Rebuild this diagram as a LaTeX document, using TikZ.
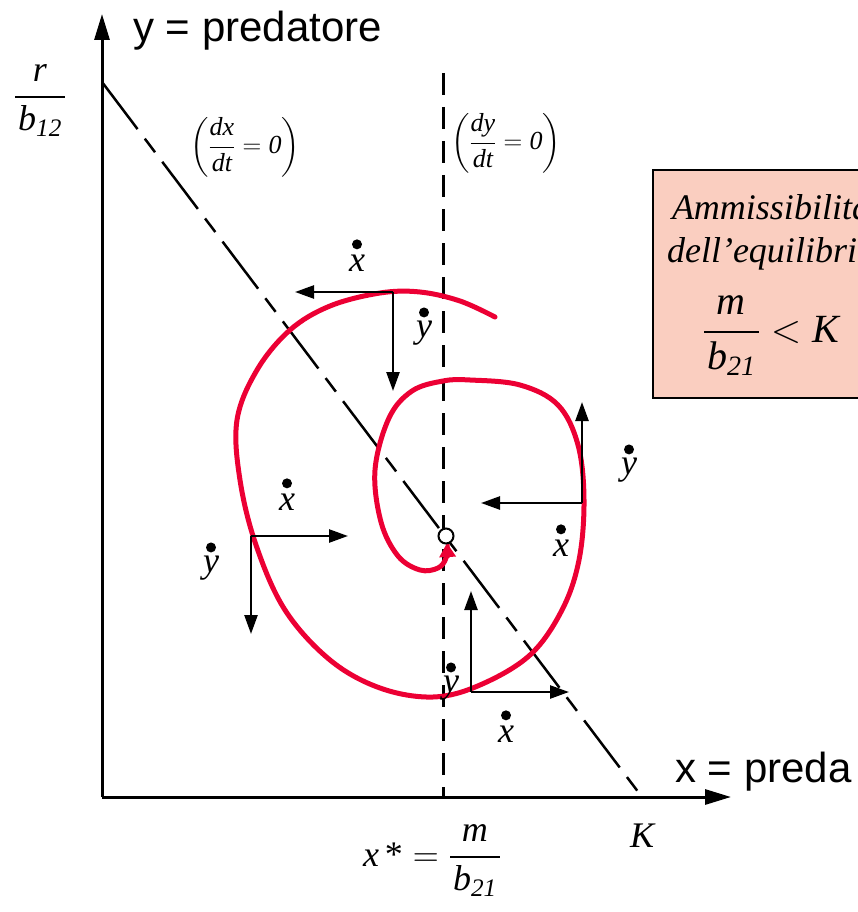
\RequirePackage{fix-cm}
\documentclass[tikz,border=0pt]{standalone}
\usepackage{amsmath}
\usepackage{fontspec}
\setmainfont{Liberation Serif}
\newfontfamily\axisfont{Liberation Sans}
\usetikzlibrary{
  arrows.meta,
  positioning
}
\definecolor{SpiralRed}{RGB}{236,0,52}
\definecolor{BoxSalmon}{RGB}{250,206,192}
\newcommand{\ratio}[2]{\genfrac{}{}{2.5pt}{0}{#1}{\kern3pt#2\kern3pt}}
\tikzset{
  axisline/.style={-{Triangle[length=26pt,width=15pt]},line width=3pt},
  xnull/.style={line width=2.5pt,dash pattern=on 59pt off 12pt on 17pt off 12pt},
  ynull/.style={line width=3pt,dash pattern=on 22pt off 12pt},
  velarrow/.style={-{Triangle[length=19pt,width=13pt]},line width=2.5pt},
  trajectory/.style={-{Triangle[length=14pt,width=16pt]},draw=SpiralRed,line width=5pt,line cap=round},
  dotmark/.style={circle,fill=black,inner sep=0pt,minimum size=10pt},
  ratelabel/.style={font=\fontsize{36}{40}\selectfont\itshape,inner sep=0pt},
  axislabel/.style={font=\axisfont\fontsize{42}{48}\selectfont,inner sep=0pt,anchor=west},
  mathlabel/.style={font=\fontsize{36}{42}\selectfont,inner sep=0pt},
  nulllabel/.style={font=\fontsize{26}{30}\selectfont,inner sep=0pt},
  condbox/.style={draw,fill=BoxSalmon,line width=2pt,minimum width=236pt,minimum height=228pt,inner sep=0pt}
}

\begin{document}
\begin{tikzpicture}[x=1pt,y=-1pt]
\useasboundingbox (0,0) rectangle (858,912);
\clip (0,0) rectangle (858,912);

% axes
\coordinate (O) at (102,797);
\coordinate (ytip) at (102,14);
\coordinate (xtip) at (731,797);
\draw[axisline] (O) -- (ytip);
\draw[axisline] (O) -- (xtip);
\node[axislabel] (ylab) at (133,31) {y = predatore};
\node[axislabel] (xlab) at (675,772) {x = preda};

% nullclines
\coordinate (rb) at (102,82);
\coordinate (K) at (642,797);
\coordinate (ntop) at (443,73);
\coordinate (nbot) at (443,797);
\draw[xnull] (rb) -- (K);
\draw[ynull] (ntop) -- (nbot);
\node[nulllabel] (dxdt) at (245,147) {$\displaystyle\left(\frac{\textit{dx}}{\textit{dt}}=\textit{0}\right)$};
\node[nulllabel] (dydt) at (506,143) {$\displaystyle\left(\frac{\textit{dy}}{\textit{dt}}=\textit{0}\right)$};

% axis values
\node[mathlabel,anchor=base] (rlab) at (40,106) {$\ratio{\textit{r}}{\textit{b}_{\textit{12}}}$};
\node[mathlabel] (Klab) at (643,836) {\textit{K}};
\node[mathlabel,anchor=base] (xstar) at (432,866) {$\textit{x}\,\text{*}=\ratio{\textit{m}}{\textit{b}_{\textit{21}}}$};

% condition box
\node[condbox] (cond) at (771,284) {};
\node[mathlabel,anchor=base] (amm) at (771,219) {\textit{Ammissibilità}};
\node[mathlabel,anchor=base] (equ) at (771,262) {\textit{dell’equilibrio}};
\node[mathlabel,font=\fontsize{40}{46}\selectfont,anchor=base] (cmk) at (771,342) {$\ratio{\textit{m}}{\textit{b}_{\textit{21}}}<\textit{K}$};

% trajectory
\draw[trajectory] plot[smooth,tension=0.6] coordinates {
  (495,317) (460,301) (420,292) (380,293) (330,306) (290,330) (257,370)
  (237,420) (240,480) (256,545) (285,610) (330,660) (380,688) (433,697)
  (480,685) (530,655) (562,610) (579,560) (584,500) (578,445) (558,405)
  (520,385) (470,380) (443,381) (412,391) (389,418) (375,470) (381,522)
  (398,556) (420,570) (438,568) (446,558) (447,543)};
\node[circle,draw,fill=white,line width=2pt,minimum size=15pt,inner sep=0pt] (eq) at (446,536) {};

% velocity arrows
\coordinate (pA) at (393,292);
\coordinate (pB) at (251,536);
\coordinate (pC) at (582,503);
\coordinate (pD) at (471,692);
\draw[velarrow] (pA) -- (295,292);
\draw[velarrow] (pA) -- (393,391);
\draw[velarrow] (pB) -- (348,536);
\draw[velarrow] (pB) -- (251,634);
\draw[velarrow] (pC) -- (582,402);
\draw[velarrow] (pC) -- (481,503);
\draw[velarrow] (pD) -- (471,591);
\draw[velarrow] (pD) -- (569,692);

% rate labels
\node[ratelabel] (xA) at (357,263) {x};
\node[dotmark,above=5pt of xA] (xAd) {};
\node[ratelabel] (yA) at (424,333) {y};
\node[dotmark,above=3pt of yA] (yAd) {};
\node[ratelabel] (xB) at (287,502) {x};
\node[dotmark,above=5pt of xB] (xBd) {};
\node[ratelabel] (yB) at (211,568) {y};
\node[dotmark,above=3pt of yB] (yBd) {};
\node[ratelabel] (yC) at (629,470) {y};
\node[dotmark,above=3pt of yC] (yCd) {};
\node[ratelabel] (xC) at (561,548) {x};
\node[dotmark,above=5pt of xC] (xCd) {};
\node[ratelabel] (yD) at (451,688) {y};
\node[dotmark,above=3pt of yD] (yDd) {};
\node[ratelabel] (xD) at (506,734) {x};
\node[dotmark,above=5pt of xD] (xDd) {};
\end{tikzpicture}
\end{document}
